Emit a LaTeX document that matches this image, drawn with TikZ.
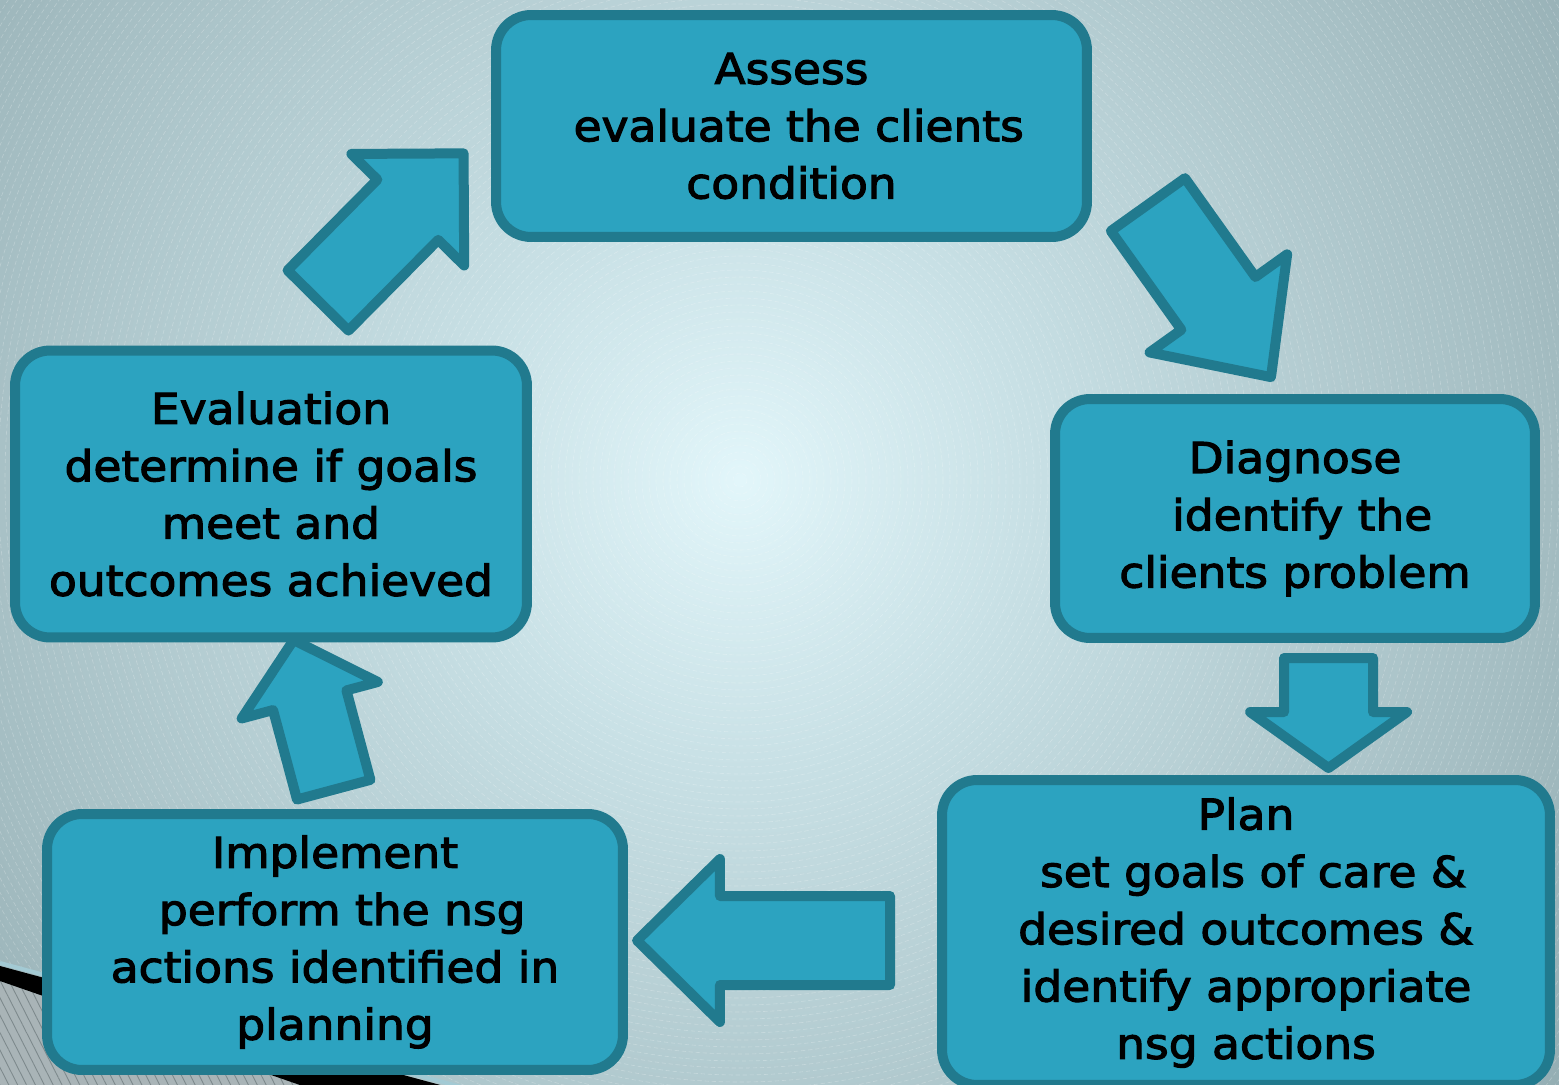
\documentclass[tikz,border=0pt]{standalone}
\usepackage{fontspec}
\setmainfont{DejaVu Sans}[FakeStretch=1.07, FakeBold=2.6]
\usetikzlibrary{shapes.arrows,patterns.meta}

\definecolor{stagefill}{HTML}{2CA3C0}
\definecolor{stageedge}{HTML}{217A8E}
\definecolor{bgcore}{HTML}{E2F6FA}
\definecolor{bgin}{HTML}{C8E0E5}
\definecolor{bgmid}{HTML}{9FB8BD}
\definecolor{bgout}{HTML}{718E95}
\definecolor{bgedge}{HTML}{58787F}
\definecolor{cornergray}{HTML}{A9B4B7}
\definecolor{cornerline}{HTML}{7D898C}
\definecolor{sheen}{HTML}{A3CAD4}

\pgfdeclareradialshading{glow}{\pgfpoint{0bp}{0bp}}{%
  color(0bp)=(bgcore); color(7bp)=(bgin); color(21bp)=(bgmid);
  color(37bp)=(bgout); color(50bp)=(bgedge)}

\begin{document}
\begin{tikzpicture}[
    x=0.02cm, y=-0.02cm,
    font=\fontsize{24.2}{32.6}\selectfont,
    stage/.style={rectangle, draw=stageedge, fill=stagefill, line width=0.2cm, rounded corners=0.7cm, align=center, inner sep=0pt},
    turn/.style={single arrow, draw=stageedge, fill=stagefill, line width=0.2cm, line join=round, inner xsep=0pt, minimum width=0pt, anchor=tail},
    ring/.style={white, opacity=0.24, line width=0.35pt, dash pattern=on 2.5pt off 1.5pt}
]
\useasboundingbox (0,0) rectangle (1559,1085);
\clip (0,0) rectangle (1559,1085);

% backdrop: soft glow with faint rings
\shade[shading=glow] (740,480) circle (1030);
\foreach \r in {7,14,...,1029}
    \draw[ring] (740,480) circle (\r);

% swoosh in the lower left corner
\fill[cornergray] (0,981) -- (323,1093) -- (0,1093) -- cycle;
\fill[pattern={Lines[angle=-63, distance=4.5pt, line width=0.5pt]}, pattern color=cornerline] (0,981) -- (323,1093) -- (0,1093) -- cycle;
\fill[black] (0,966) -- (470,1093) -- (323,1093) -- (0,981) -- cycle;
\draw[sheen, line width=0.08cm] (0,963) -- (480,1092);

% arrows between the stages
\node[turn, rotate=-54.5, minimum height=4.24cm, inner ysep=0.81cm, single arrow head extend=0.78cm, single arrow tip angle=86] (arr_diag) at (1145,200.5) {};
\node[turn, rotate=-90, minimum height=2.2cm, inner ysep=0.79cm, single arrow head extend=0.68cm, single arrow tip angle=109] (arr_plan) at (1328.5,653) {};
\node[turn, rotate=180, minimum height=5.06cm, inner ysep=0.79cm, single arrow head extend=0.74cm, single arrow tip angle=89] (arr_impl) at (895,940.5) {};
\node[turn, rotate=105, minimum height=3.1cm, inner ysep=0.66cm, single arrow head extend=0.65cm, single arrow tip angle=97] (arr_eval) at (335,794.5) {};
\node[turn, rotate=45.3, minimum height=4.14cm, inner ysep=0.757cm, single arrow head extend=0.73cm, single arrow tip angle=90] (arr_assess) at (314.5,304) {};

% the five stages
\node[stage, minimum width=11.82cm, minimum height=4.44cm] (assess) at (791.5,126) {Assess\\~evaluate the clients\\condition};
\node[stage, minimum width=9.6cm, minimum height=4.78cm] (diagnose) at (1295,518.5) {Diagnose\\~identify the\\clients problem};
\node[stage, minimum width=12.16cm, minimum height=6.1cm] (plan) at (1246,932.5) {Plan\\~set goals of care \&\\desired outcomes \&\\identify appropriate\\nsg actions};
\node[stage, minimum width=11.52cm, minimum height=5.12cm] (implement) at (335,942) {Implement\\~perform the nsg\\actions identified in\\planning};
\node[stage, minimum width=10.24cm, minimum height=5.74cm] (evaluation) at (271,494) {Evaluation\\determine if goals\\meet and\\outcomes achieved};

\end{tikzpicture}
\end{document}
